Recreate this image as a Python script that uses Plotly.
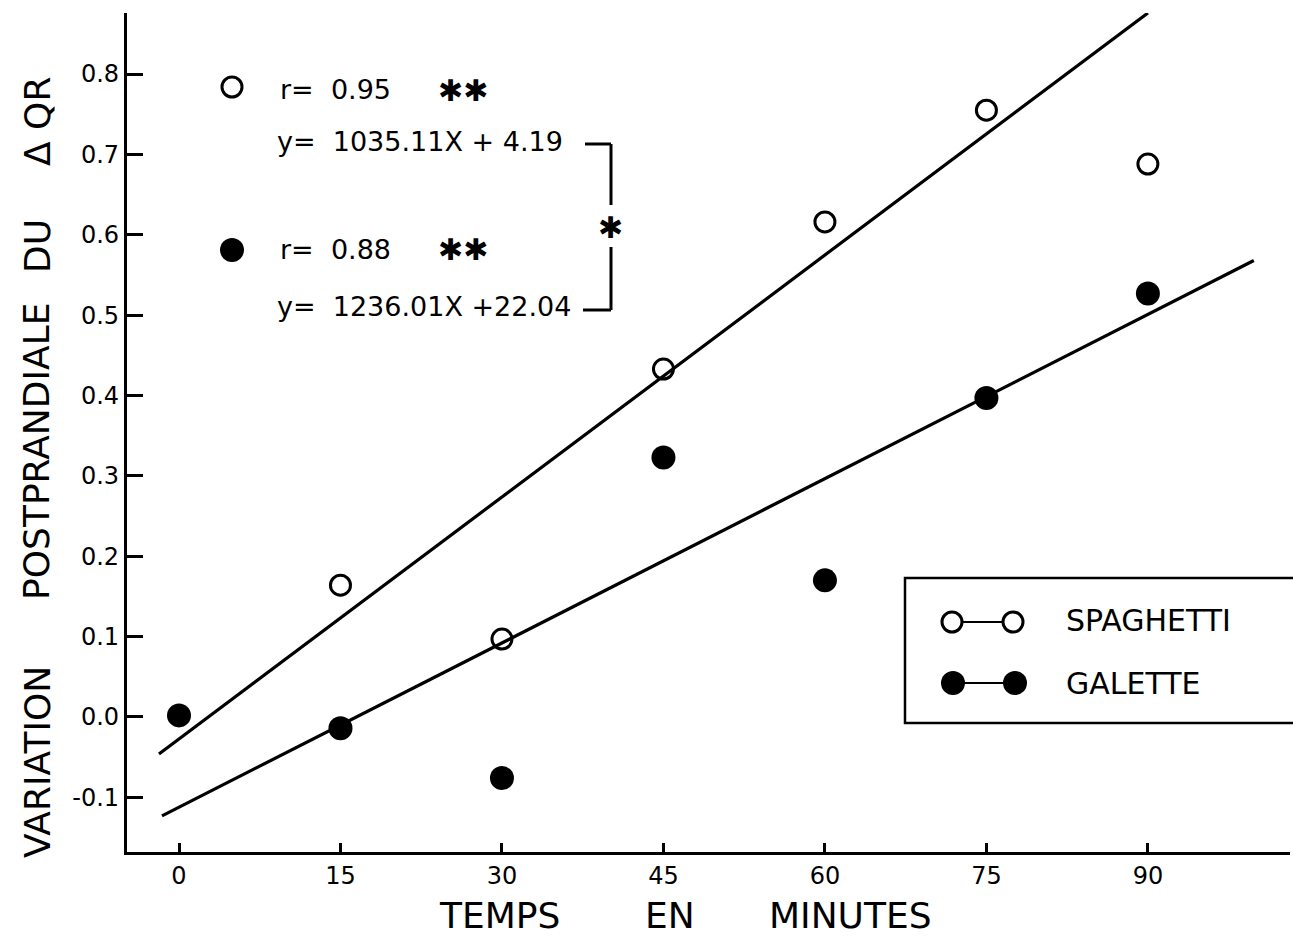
import plotly.graph_objects as go

# ---- data ----
time_spag = [15, 30, 45, 60, 75, 90]
qr_spag = [0.164, 0.097, 0.433, 0.616, 0.755, 0.688]
time_gal = [0, 15, 30, 45, 60, 75, 90]
qr_gal = [0.002, -0.014, -0.076, 0.323, 0.170, 0.397, 0.527]

# regression lines (end points)
fit_spag_x = [-1.86, 90.0]
fit_spag_y = [-0.046, 0.876]
fit_gal_x = [-1.58, 99.84]
fit_gal_y = [-0.123, 0.568]

x_ticks = [0, 15, 30, 45, 60, 75, 90]
x_ticklabels = ["0", "15", "30", "45", "60", "75", "90"]
y_ticks = [-0.1, 0.0, 0.1, 0.2, 0.3, 0.4, 0.5, 0.6, 0.7, 0.8]
y_ticklabels = ["-0.1", "0.0", "0.1", "0.2", "0.3", "0.4", "0.5", "0.6", "0.7", "0.8"]

x_title_words = ["TEMPS", "EN", "MINUTES"]
y_title_words = ["VARIATION", "POSTPRANDIALE", "DU", "Δ QR"]
legend_names = ["SPAGHETTI", "GALETTE"]
stats_lines = ["r=  0.95", "y=  1035.11X + 4.19", "r=  0.88", "y=  1236.01X +22.04"]

# ---- layout geometry (pixels) ----
W, H = 1293, 938
PL, PR, PT, PB = 127, 1290, 13, 852
FONT = "DejaVu Sans"


def px(xp):
    return (xp - PL) / (PR - PL)


def py(yp):
    return (PB - yp) / (PB - PT)


fig = go.Figure()

fig.add_trace(go.Scatter(x=fit_spag_x, y=fit_spag_y, mode="lines",
                         line=dict(color="black", width=3.2), showlegend=False,
                         hoverinfo="skip"))
fig.add_trace(go.Scatter(x=fit_gal_x, y=fit_gal_y, mode="lines",
                         line=dict(color="black", width=3.2), showlegend=False,
                         hoverinfo="skip"))
fig.add_trace(go.Scatter(x=time_spag, y=qr_spag, mode="markers", name="SPAGHETTI",
                         marker=dict(symbol="circle-open", size=20, color="black",
                                     line=dict(width=3, color="black")),
                         showlegend=False, cliponaxis=False))
fig.add_trace(go.Scatter(x=time_gal, y=qr_gal, mode="markers", name="GALETTE",
                         marker=dict(symbol="circle", size=24, color="black"),
                         showlegend=False, cliponaxis=False))

annotations = []
shapes = []

# y-axis title words (rotated)
y_word_centers = [762, 452, 246, 122]
for w, c in zip(y_title_words, y_word_centers):
    annotations.append(dict(text=w, x=px(37), y=py(c), xref="paper", yref="paper",
                            textangle=-90, showarrow=False, xanchor="center",
                            yanchor="middle", font=dict(family=FONT, size=36, color="black")))

# x-axis title words
x_word_centers = [500, 670, 850]
for w, c in zip(x_title_words, x_word_centers):
    annotations.append(dict(text=w, x=px(c), y=py(915), xref="paper", yref="paper",
                            showarrow=False, xanchor="center", yanchor="middle",
                            font=dict(family=FONT, size=36, color="black")))

# statistics block
stat_pos = [(278, 89), (275, 141), (278, 249), (275, 307)]
for t, (xx, yy) in zip(stats_lines, stat_pos):
    annotations.append(dict(text=t, x=px(xx), y=py(yy), xref="paper", yref="paper",
                            showarrow=False, xanchor="left", yanchor="middle",
                            font=dict(family=FONT, size=27, color="black")))
for yy in (90, 249):
    annotations.append(dict(text="✱✱", x=px(463), y=py(yy), xref="paper", yref="paper",
                            showarrow=False, xanchor="center", yanchor="middle",
                            font=dict(family=FONT, size=30, color="black")))
annotations.append(dict(text="✱", x=px(610), y=py(227), xref="paper", yref="paper",
                        showarrow=False, xanchor="center", yanchor="middle",
                        font=dict(family=FONT, size=30, color="black")))

# bracket
for (x0, y0, x1, y1) in [(585, 144, 611, 144), (611, 144, 611, 205),
                         (611, 247, 611, 310), (583, 310, 611, 310)]:
    shapes.append(dict(type="line", xref="paper", yref="paper",
                       x0=px(x0), y0=py(y0), x1=px(x1), y1=py(y1),
                       line=dict(color="black", width=3)))


def circle(cx, cy, r, filled, lw=3):
    return dict(type="circle", xref="paper", yref="paper",
                xsizemode="pixel", ysizemode="pixel",
                xanchor=px(cx), yanchor=py(cy),
                x0=-r, x1=r, y0=-r, y1=r,
                line=dict(color="black", width=lw if not filled else 0),
                fillcolor="black" if filled else "rgba(0,0,0,0)")


# stats markers
shapes.append(circle(232, 87, 10, False))
shapes.append(circle(232, 250, 12, True))

# legend box
shapes.append(dict(type="rect", xref="paper", yref="paper",
                   x0=px(905), x1=px(1300), y0=py(723), y1=py(578),
                   line=dict(color="black", width=2.5)))
shapes.append(dict(type="line", xref="paper", yref="paper",
                   x0=px(962), x1=px(1003), y0=py(622), y1=py(622),
                   line=dict(color="black", width=2)))
shapes.append(dict(type="line", xref="paper", yref="paper",
                   x0=px(963), x1=px(1004), y0=py(683), y1=py(683),
                   line=dict(color="black", width=2)))
shapes.append(circle(952, 622, 10, False))
shapes.append(circle(1013, 622, 10, False))
shapes.append(circle(953, 683, 12, True))
shapes.append(circle(1015, 683, 12, True))
for t, yy in zip(legend_names, (620, 683)):
    annotations.append(dict(text=t, x=px(1064), y=py(yy), xref="paper", yref="paper",
                            showarrow=False, xanchor="left", yanchor="middle",
                            font=dict(family=FONT, size=30, color="black")))

fig.update_layout(
    width=W, height=H,
    margin=dict(l=PL, r=W - PR, t=PT, b=H - PB),
    paper_bgcolor="white", plot_bgcolor="white",
    showlegend=False,
    font=dict(family=FONT, color="black"),
    annotations=annotations,
    shapes=shapes,
    xaxis=dict(range=[-4.83, 103.2], showline=True, linewidth=3.2, linecolor="black",
               ticks="inside", ticklen=9, tickwidth=2.5, tickcolor="black",
               tickvals=x_ticks, ticktext=x_ticklabels,
               tickfont=dict(family=FONT, size=24, color="black"),
               showgrid=False, zeroline=False),
    yaxis=dict(range=[-0.168, 0.876], showline=True, linewidth=3.2, linecolor="black",
               ticks="inside", ticklen=16, tickwidth=2.5, tickcolor="black",
               tickvals=y_ticks, ticktext=y_ticklabels,
               tickfont=dict(family=FONT, size=24, color="black"),
               showgrid=False, zeroline=False),
)

fig.write_html("out.html")
